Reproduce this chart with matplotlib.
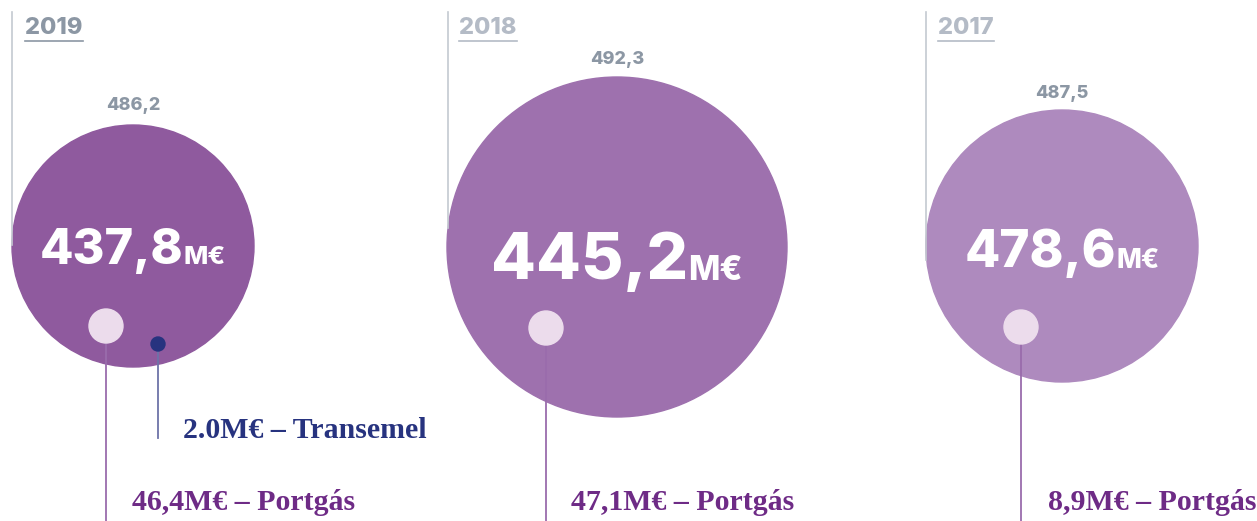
import matplotlib.pyplot as plt
from matplotlib.patches import Circle

# data
years = ['2019', '2018', '2017']
totals = ['437,8', '445,2', '478,6']
top_values = ['486,2', '492,3', '487,5']
portgas = ['46,4M€ – Portgás', '47,1M€ – Portgás', '8,9M€ – Portgás']
transemel = '2.0M€ – Transemel'

# layout (pixels)
W, H = 1257, 521
cx = [133, 617, 1062]
cy = [246, 247, 246]
rad = [121, 170, 136]
circle_colors = ['#8f5a9e', '#9e71ae', '#ae8abe']
year_colors = ['#8c97a4', '#b4bbc6', '#b4bbc6']
year_x = [25, 459, 938]
vline_x = [12, 448, 926]
vline_bottom = [245, 228, 260]
top_y = [105, 60, 93]
big_size = [35, 47, 37]
unit_size = [18.5, 24, 19]
big_y = [247, 256, 249]
dot_x = [106, 546, 1021]
dot_y = [326, 328, 327]
label_x = [132, 571, 1048]

fig = plt.figure(figsize=(W / 100, H / 100), dpi=100)
ax = fig.add_axes([0, 0, 1, 1])
ax.set_xlim(0, W)
ax.set_ylim(H, 0)
ax.axis('off')

sans = ['Inter', 'DejaVu Sans']
serif = ['Liberation Serif', 'DejaVu Serif']
renderer = fig.canvas.get_renderer()

for i in range(3):
    # grey vertical rule and year
    ax.plot([vline_x[i], vline_x[i]], [12, vline_bottom[i]], color='#c4c9d1', lw=1.2)
    t = ax.text(year_x[i], 28, years[i], fontsize=17, fontweight='heavy', family=sans,
                color=year_colors[i], ha='left', va='center')
    bb = t.get_window_extent(renderer)
    ax.plot([year_x[i], year_x[i] + bb.width], [41, 41], color=year_colors[i], lw=1.2)

    ax.add_patch(Circle((cx[i], cy[i]), rad[i], color=circle_colors[i], zorder=1))
    ax.text(cx[i], top_y[i], top_values[i], fontsize=13, fontweight='heavy', family=sans,
            color='#8c97a4', ha='center', va='center')

    # centre label: number + unit, centred together
    n = ax.text(0, 0, totals[i], fontsize=big_size[i], fontweight='heavy', family=sans,
                color='white', ha='left', va='baseline', zorder=3)
    u = ax.text(0, 0, 'M€', fontsize=unit_size[i], fontweight='heavy', family=sans,
                color='white', ha='left', va='baseline', zorder=3)
    wn = n.get_window_extent(renderer).width
    wu = u.get_window_extent(renderer).width
    x0 = cx[i] - (wn + wu) / 2
    base = big_y[i] + 18 * big_size[i] / 36
    n.set_position((x0, base))
    u.set_position((x0 + wn, base))

    # Portgás marker
    ax.plot([dot_x[i], dot_x[i]], [dot_y[i], H], color='#9a6cac', lw=1.3, zorder=2)
    ax.add_patch(Circle((dot_x[i], dot_y[i]), 17, color='#ecdcec', zorder=3))
    ax.text(label_x[i], 503, portgas[i], fontsize=21.5, fontweight='bold', family=serif,
            color='#6e2b86', ha='left', va='center')

# Transemel marker (2019 only)
ax.plot([158, 158], [344, 438], color='#6d73a8', lw=1.3, zorder=2)
ax.add_patch(Circle((158, 344), 7, color='#27337f', zorder=3))
ax.text(183, 430, transemel, fontsize=21.5, fontweight='bold', family=serif,
        color='#27337f', ha='left', va='center')

fig.savefig('out.png', dpi=100)
